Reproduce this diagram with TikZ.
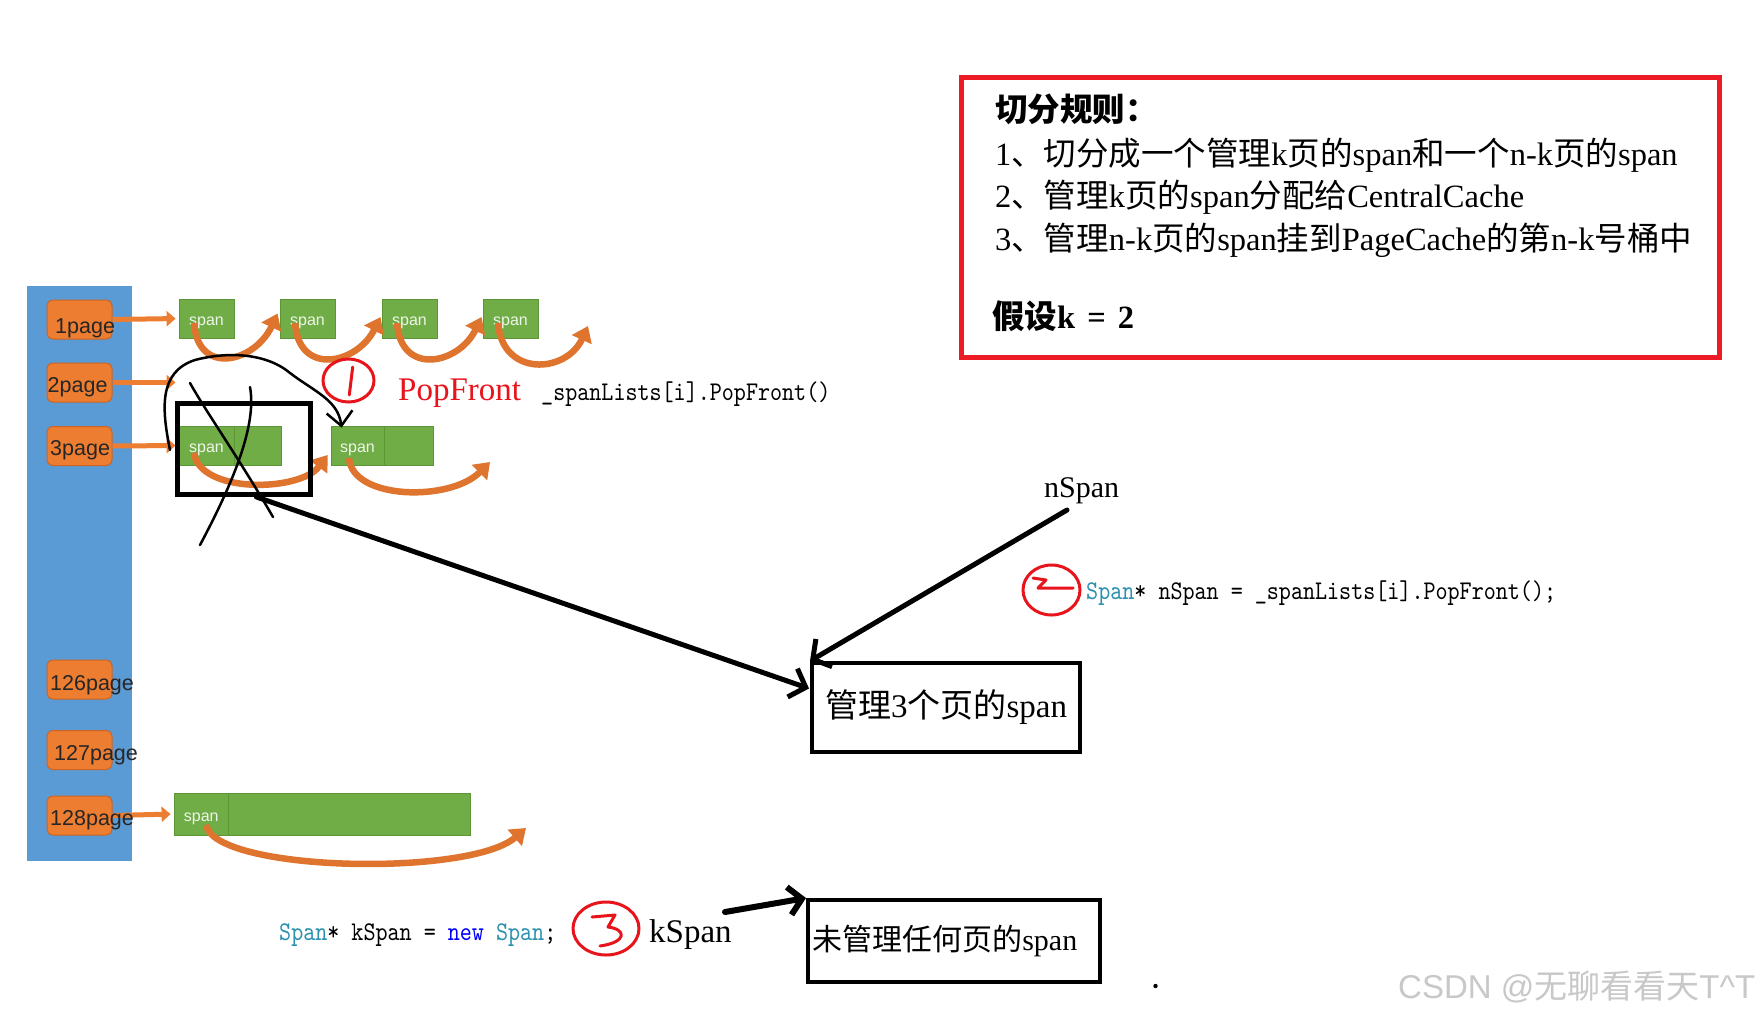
\documentclass[tikz,border=0pt]{standalone}
\usepackage{fontspec}
\setmainfont{Liberation Serif}
\newfontfamily\cjk{Noto Sans CJK SC}
\newfontfamily\sansf{Liberation Sans}
\newfontfamily\codef[FakeStretch=0.85]{lmmono10-regular.otf}
\usetikzlibrary{arrows.meta,calc}
\newcommand\zh[1]{{\cjk #1}}
\newcommand\fsz[1]{\fontsize{#1}{#1}\selectfont}
\definecolor{bluebar}{RGB}{91,155,213}
\definecolor{orng}{RGB}{237,125,49}
\definecolor{orngd}{RGB}{205,100,35}
\definecolor{linkc}{RGB}{222,116,46}
\definecolor{grn}{RGB}{112,173,71}
\definecolor{grnd}{RGB}{92,150,55}
\definecolor{redbox}{RGB}{237,28,36}
\definecolor{hred}{RGB}{232,20,28}
\definecolor{vsteal}{RGB}{43,145,175}
\definecolor{vsblue}{RGB}{0,0,255}
\definecolor{wmc}{RGB}{200,200,200}
\begin{document}
\begin{tikzpicture}[x=1pt,y=-1pt,
  pagebox/.style={rectangle, rounded corners=6pt, fill=orng, draw=orngd, line width=1pt, minimum width=65, minimum height=39, inner sep=0},
  pagelab/.style={anchor=base west, inner sep=0, font=\sansf\fsz{21.5}, text=black!85},
  cell/.style={rectangle, fill=grn, draw=grnd, line width=0.8pt, inner sep=0, font=\sansf\fsz{16}, text=white!88!grn, text height=14pt, text depth=0pt},
  feed/.style={draw=orng, line width=5pt, -{Triangle[length=9pt,width=15pt]}},
  link/.style={draw=linkc, line width=6.5pt, -{Triangle[length=15pt,width=21pt]}},
  hand/.style={draw=black, line width=2.5pt, line cap=round, line join=round},
  handthick/.style={draw=black, line width=5pt, line cap=round, line join=round},
  redhand/.style={draw=hred, line width=3pt, line cap=round, line join=round},
  code/.style={anchor=base west, inner sep=0, font=\codef\fsz{27}},
  plain/.style={anchor=base west, inner sep=0},
  rtxt/.style={anchor=base west, inner sep=0, font=\fsz{32.5}},
  hbox/.style={draw=black, line width=4pt, inner sep=0}
]
\useasboundingbox[fill=white] (0,0) rectangle (1758,1021);

% blue bar
\fill[bluebar] (27,286) rectangle (132,861);

% page boxes
\node[pagebox] (p1) at (79.5,319.5) {};
\node[pagebox] (p2) at (79.5,382.5) {};
\node[pagebox] (p3) at (79.5,446) {};
\node[pagebox] (p126) at (79.5,679.5) {};
\node[pagebox] (p127) at (79.5,750) {};
\node[pagebox] (p128) at (79.5,815.5) {};

% spans row 1
\node[cell, minimum width=55, minimum height=39] (s1) at (206.5,318.5) {span};
\node[cell, minimum width=55, minimum height=39] (s2) at (307.5,318.5) {span};
\node[cell, minimum width=55, minimum height=39] (s3) at (409.5,318.5) {span};
\node[cell, minimum width=55, minimum height=39] (s4) at (510.5,318.5) {span};
% spans row 3
\node[cell, minimum width=55, minimum height=39] (a1) at (206.5,445.5) {span};
\node[cell, minimum width=47, minimum height=39] (a2) at (257.5,445.5) {};
\node[cell, minimum width=53, minimum height=39] (b1) at (357.5,445.5) {span};
\node[cell, minimum width=49, minimum height=39] (b2) at (408.5,445.5) {};
% span row 128
\node[cell, minimum width=54.5, minimum height=42] (c1) at (201.25,814) {span};
\node[cell, minimum width=242, minimum height=42] (c2) at (349.5,814) {};

% feed arrows
\draw[feed, shorten >=3pt] (p1.east) -- (s1.west);
\draw[feed] (p2.east) -- ++(63,0);
\draw[feed, shorten >=3pt] (p3.east) -- (a1.west);
\draw[feed, shorten >=3pt] (p128.east) -- (c1.west);

% page labels
\node[pagelab] (l1) at (55,333) {1page};
\node[pagelab] (l2) at (47.5,392) {2page};
\node[pagelab] (l3) at (50,455) {3page};
\node[pagelab] (l126) at (50,690) {126page};
\node[pagelab] (l127) at (54,760) {127page};
\node[pagelab] (l128) at (50,825) {128page};

% free ends
\coordinate (e4) at (588,326);
\coordinate (eb) at (490,462);
\coordinate (ec) at (526,828);

% curved links
\draw[link] ($(s1.center)+(-12.5,4.5)$) .. controls (198,377) and (255,362) .. ($(s2.west)+(-2,-5)$);
\draw[link] ($(s2.center)+(-12.5,4.5)$) .. controls (299,377) and (357,364) .. ($(s3.west)+(-1,-1.5)$);
\draw[link] ($(s3.center)+(-12.5,4.5)$) .. controls (401,377) and (459,364) .. ($(s4.west)+(-1,-1.5)$);
\draw[link] ($(s4.center)+(-12.5,4.5)$) .. controls (502,377) and (566,374) .. (e4);
\draw[link] ($(a1.center)+(-12.5,7.5)$) .. controls (200,494) and (300,492) .. ($(b1.west)+(-3,9.5)$);
\draw[link] ($(b1.center)+(-8.5,12.5)$) .. controls (352,500) and (450,502) .. (eb);
\draw[link] ($(c1.center)+(4.75,11)$) .. controls (215,872) and (470,877) .. (ec);

% hand-drawn annotations
\node[draw=black, line width=5pt, minimum width=133, minimum height=91, inner sep=0] (xbox) at (243.5,449) {};
\draw[hand] (190,383) .. controls (205,410) and (240,460) .. (273,517);
\draw[hand] (250,387) .. controls (256,420) and (240,470) .. (200,545);
\coordinate (c1start) at (170,450);
\draw[hand, -{Straight Barb[length=14pt,width=26pt]}] (c1start) .. controls (162,410) and (158,372) .. (195,360)
   .. controls (225,352) and (265,352) .. (290,373) .. controls (315,392) and (338,400) .. ($(b1.north west)+(11,2)$);

\draw[redhand] (348.5,380.5) ellipse [x radius=25.5, y radius=21.5];
\draw[redhand] (352.7,367) -- (349.3,395);

\node[plain, text=hred, font=\fsz{33}] (pop) at (398,400) {PopFront};
\node[code] (codeA) at (541,400) {\_spanLists[i].PopFront()};

% box 3 pages
\node[hbox, minimum width=268, minimum height=89, font=\fsz{33}] (box3) at (946,707.5) {\zh{管理}3\zh{个页的}span};
\draw[handthick, -{Straight Barb[length=14pt,width=30pt]}] ($(xbox.south)+(13,0)$) -- ($(box3.west)+(-1,-19)$);

\node[plain, font=\fsz{30}] (nspan) at (1044,497) {nSpan};
\coordinate (nsp0) at (1067,510);
\draw[handthick, -{Straight Barb[length=13pt,width=32pt]}] (nsp0) -- (box3.north west);

\draw[redhand] (1051.5,590) ellipse [x radius=28.5, y radius=25];
\draw[redhand] (1033,578) -- (1046,580) -- (1038,588) -- (1073,588);
\node[code] (codeB) at (1086,599) {\textcolor{vsteal}{Span}* nSpan = \_spanLists[i].PopFront();};

% bottom row
\node[code] (codeC) at (279,940) {\textcolor{vsteal}{Span}* kSpan = \textcolor{vsblue}{new} \textcolor{vsteal}{Span};};
\draw[redhand] (606,928.5) ellipse [x radius=33, y radius=26.5];
\draw[redhand] (592,917) -- (615,915) -- (608,927) .. controls (626,929) and (628,942) .. (600,946);
\node[plain, font=\fsz{33}] (kspan) at (649,942) {kSpan};

\node[hbox, minimum width=291.5, minimum height=82, font=\fsz{30}] (box0) at (953.75,941) {\hspace*{-18pt}\zh{未管理任何页的}span};
\coordinate (ksp0) at (725,912);
\draw[handthick, line width=6pt, -{Straight Barb[length=13pt,width=28pt]}] (ksp0) -- (box0.north west);

\fill (1155.5,986) circle [radius=2.2];

% rules box
\node[draw=redbox, line width=5pt, minimum width=758, minimum height=280, inner sep=0] (rules) at (1340,217) {};
\node[rtxt] (r0) at (995,121) {\bfseries\zh{切分规则：}};
\node[rtxt] (r1) at (995,165) {1\zh{、切分成一个管理}k\zh{页的}span\zh{和一个}n-k\zh{页的}span};
\node[rtxt] (r2) at (995,207) {2\zh{、管理}k\zh{页的}span\zh{分配给}CentralCache};
\node[rtxt] (r3) at (995,250) {3\zh{、管理}n-k\zh{页的}span\zh{挂到}PageCache\zh{的第}n-k\zh{号桶中}};
\node[rtxt] (r4) at (992,328) {\bfseries\zh{假设}k\hspace{12pt}=\hspace{12pt}2};

% watermark
\node[plain, text=wmc, font=\sansf\fsz{33}] (wm) at (1398,998) {CSDN @\zh{无聊看看天}T\textasciicircum T};
\end{tikzpicture}
\end{document}
